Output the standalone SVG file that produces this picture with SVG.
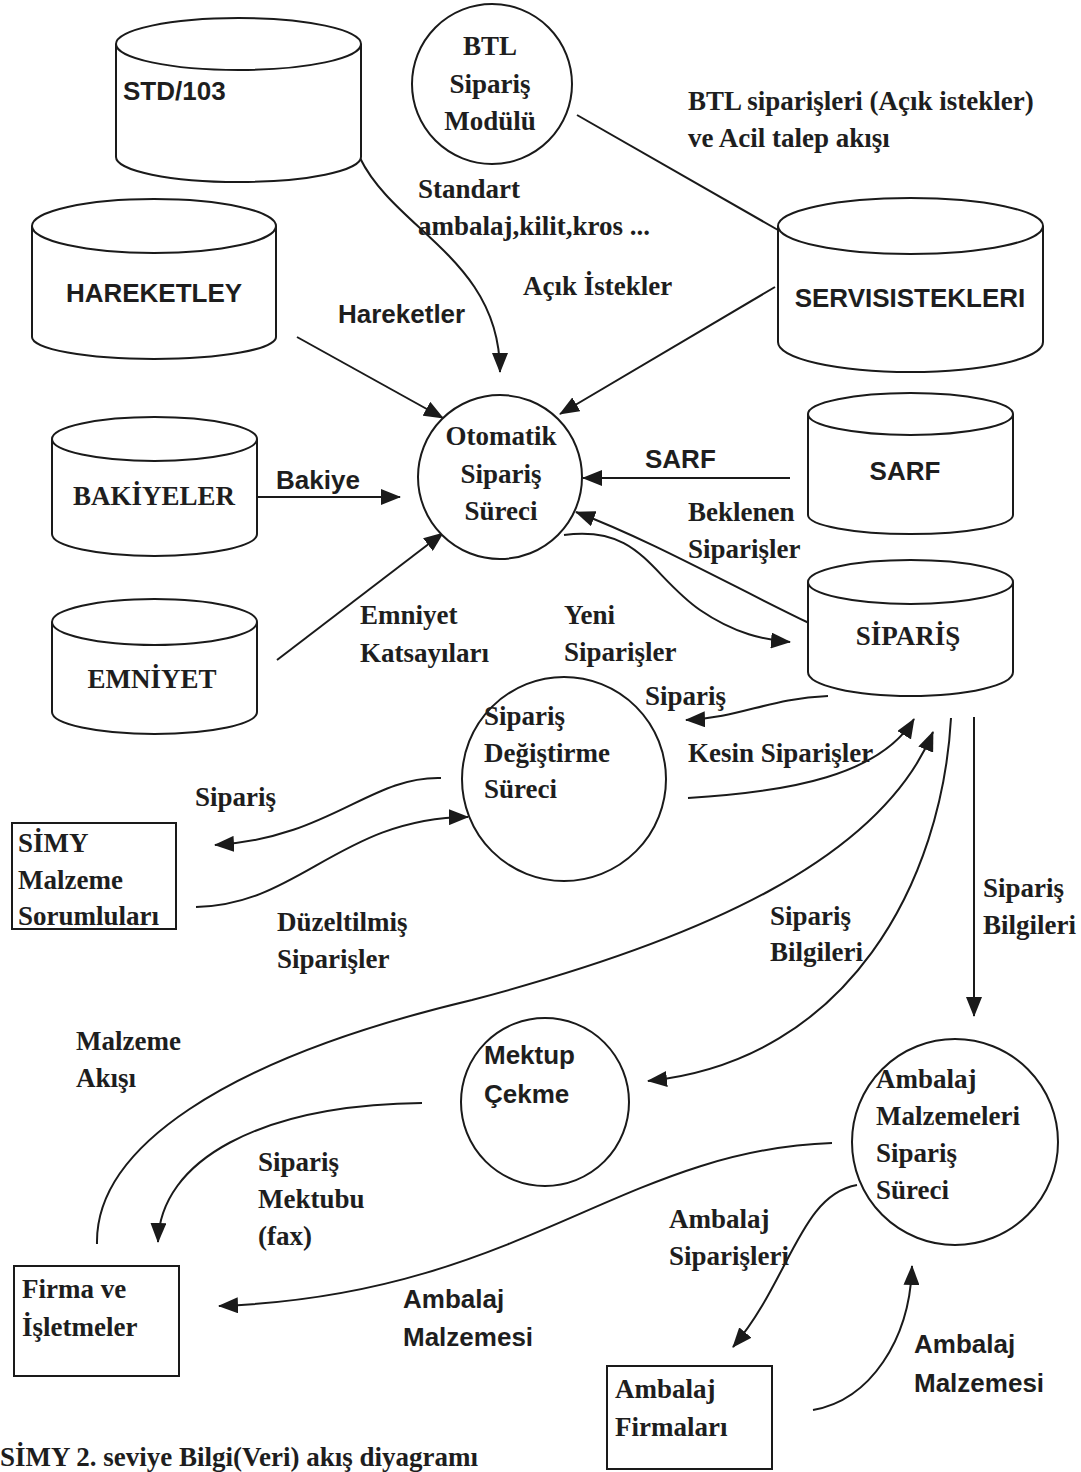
<svg xmlns="http://www.w3.org/2000/svg" width="1081" height="1472" viewBox="0 0 1081 1472">
<defs>
<style>
.sh{fill:#fff;stroke:#1a1a1a;stroke-width:2}
.ln{fill:none;stroke:#1a1a1a;stroke-width:2}
.ar{marker-end:url(#ah)}
.t{font-family:"Liberation Serif","Times New Roman",serif;font-weight:bold;font-size:27px;fill:#1e1e1e}
.a{font-family:"Liberation Sans",Arial,sans-serif;font-weight:bold;font-size:26px;fill:#1e1e1e}
.m{text-anchor:middle}
</style>
<marker id="ah" viewBox="0 0 20 16" refX="19" refY="8" markerWidth="20" markerHeight="16" markerUnits="userSpaceOnUse" orient="auto">
<path d="M0,0 L20,8 L0,16 z" fill="#1a1a1a"/>
</marker>
</defs>
<rect width="1081" height="1472" fill="#fff"/>

<g id="connectors">
<path class="ln ar" d="M360,158 C395,230 500,260 500,372"/>
<path class="ln ar" d="M297,337 L443,418"/>
<path class="ln ar" d="M775,287 L560,414"/>
<path class="ln" d="M577,115 L778,230"/>
<path class="ln ar" d="M257,497 L400,497"/>
<path class="ln ar" d="M277,660 L443,533"/>
<path class="ln ar" d="M790,478 L583,478"/>
<path class="ln ar" d="M809,623 C730,585 650,540 576,512"/>
<path class="ln ar" d="M564,535 C640,525 650,575 700,610 C735,634 765,640 790,642"/>
<path class="ln ar" d="M828,696 C770,698 740,718 686,720"/>
<path class="ln ar" d="M688,798 C790,792 880,775 914,719"/>
<path class="ln ar" d="M951,718 C942,880 850,1060 648,1081"/>
<path class="ln ar" d="M974,717 L974,1016"/>
<path class="ln ar" d="M97,1244 C95,1150 220,1060 472,1000 C700,940 880,860 933,732"/>
<path class="ln ar" d="M441,778 C370,776 330,838 215,845"/>
<path class="ln ar" d="M196,907 C300,905 340,818 468,817"/>
<path class="ln ar" d="M422,1103 C260,1105 160,1160 158,1242"/>
<path class="ln ar" d="M832,1143 C620,1150 520,1295 219,1306"/>
<path class="ln ar" d="M857,1185 C800,1195 790,1280 733,1347"/>
<path class="ln ar" d="M813,1410 C870,1400 910,1340 912,1266"/>
</g>

<g id="std103">
<path class="sh" d="M116,44 L116,157 A122.5,25 0 0 0 361,157 L361,44"/>
<ellipse class="sh" cx="238.5" cy="44" rx="122.5" ry="26"/>
<text class="a" x="123" y="100">STD/103</text>
</g>
<g id="btl">
<circle class="sh" cx="492" cy="84" r="80"/>
<text class="t m" x="490" y="55">BTL</text>
<text class="t m" x="490" y="93">Sipariş</text>
<text class="t m" x="490" y="130">Modülü</text>
</g>
<g id="hareketley">
<path class="sh" d="M32,226 L32,337 A122,22 0 0 0 276,337 L276,226"/>
<ellipse class="sh" cx="154" cy="226" rx="122" ry="27"/>
<text class="a m" x="154" y="302">HAREKETLEY</text>
</g>
<g id="servisistekleri">
<path class="sh" d="M778,226 L778,342 A132.5,30 0 0 0 1043,342 L1043,226"/>
<ellipse class="sh" cx="910.5" cy="226" rx="132.5" ry="28"/>
<text class="a m" x="910" y="307">SERVISISTEKLERI</text>
</g>
<g id="bakiyeler">
<path class="sh" d="M52,439 L52,534 A102.5,22 0 0 0 257,534 L257,439"/>
<ellipse class="sh" cx="154.5" cy="439" rx="102.5" ry="22"/>
<text class="t m" x="154" y="505">BAKİYELER</text>
</g>
<g id="emniyet">
<path class="sh" d="M52,622 L52,712 A102.5,22 0 0 0 257,712 L257,622"/>
<ellipse class="sh" cx="154.5" cy="622" rx="102.5" ry="23"/>
<text class="t m" x="152" y="688">EMNİYET</text>
</g>
<g id="sarf">
<path class="sh" d="M808,414 L808,515 A102.5,19 0 0 0 1013,515 L1013,414"/>
<ellipse class="sh" cx="910.5" cy="414" rx="102.5" ry="21"/>
<text class="a m" x="905" y="480">SARF</text>
</g>
<g id="siparis-db">
<path class="sh" d="M808,582 L808,672 A102.5,24 0 0 0 1013,672 L1013,582"/>
<ellipse class="sh" cx="910.5" cy="582" rx="102.5" ry="22"/>
<text class="t m" x="908" y="645">SİPARİŞ</text>
</g>
<g id="otomatik">
<circle class="sh" cx="500" cy="477" r="82"/>
<text class="t m" x="501" y="445">Otomatik</text>
<text class="t m" x="501" y="483">Sipariş</text>
<text class="t m" x="501" y="520">Süreci</text>
</g>
<g id="degistirme">
<circle class="sh" cx="564" cy="779" r="102"/>
<text class="t" x="484" y="725">Sipariş</text>
<text class="t" x="484" y="762">Değiştirme</text>
<text class="t" x="484" y="798">Süreci</text>
</g>
<g id="simy">
<rect class="sh" x="12" y="823" width="164" height="106"/>
<text class="t" x="18" y="852">SİMY</text>
<text class="t" x="18" y="889">Malzeme</text>
<text class="t" x="18" y="925">Sorumluları</text>
</g>
<g id="mektup">
<circle class="sh" cx="545" cy="1102" r="84"/>
<text class="a" x="484" y="1064">Mektup</text>
<text class="a" x="484" y="1103">Çekme</text>
</g>
<g id="ambalaj-surec">
<circle class="sh" cx="955" cy="1142" r="103"/>
<text class="t" x="876" y="1088">Ambalaj</text>
<text class="t" x="876" y="1125">Malzemeleri</text>
<text class="t" x="876" y="1162">Sipariş</text>
<text class="t" x="876" y="1199">Süreci</text>
</g>
<g id="firma">
<rect class="sh" x="14" y="1266" width="165" height="110"/>
<text class="t" x="22" y="1298">Firma ve</text>
<text class="t" x="22" y="1336">İşletmeler</text>
</g>
<g id="ambalaj-firmalari">
<rect class="sh" x="607" y="1366" width="165" height="103"/>
<text class="t" x="615" y="1398">Ambalaj</text>
<text class="t" x="615" y="1436">Firmaları</text>
</g>

<g id="labels">
<text class="t" x="418" y="198">Standart</text>
<text class="t" x="418" y="235">ambalaj,kilit,kros ...</text>
<text class="t" x="688" y="110">BTL siparişleri (Açık istekler)</text>
<text class="t" x="688" y="147">ve Acil talep akışı</text>
<text class="t" x="523" y="295">Açık İstekler</text>
<text class="a" x="338" y="323">Hareketler</text>
<text class="a" x="276" y="489">Bakiye</text>
<text class="a" x="645" y="468">SARF</text>
<text class="t" x="688" y="521">Beklenen</text>
<text class="t" x="688" y="558">Siparişler</text>
<text class="t" x="360" y="624">Emniyet</text>
<text class="t" x="360" y="662">Katsayıları</text>
<text class="t" x="564" y="624">Yeni</text>
<text class="t" x="564" y="661">Siparişler</text>
<text class="t" x="645" y="705">Sipariş</text>
<text class="t" x="688" y="762">Kesin Siparişler</text>
<text class="t" x="195" y="806">Sipariş</text>
<text class="t" x="277" y="931">Düzeltilmiş</text>
<text class="t" x="277" y="968">Siparişler</text>
<text class="t" x="770" y="925">Sipariş</text>
<text class="t" x="770" y="961">Bilgileri</text>
<text class="t" x="983" y="897">Sipariş</text>
<text class="t" x="983" y="934">Bilgileri</text>
<text class="t" x="76" y="1050">Malzeme</text>
<text class="t" x="76" y="1087">Akışı</text>
<text class="t" x="258" y="1171">Sipariş</text>
<text class="t" x="258" y="1208">Mektubu</text>
<text class="t" x="258" y="1245">(fax)</text>
<text class="a" x="403" y="1308">Ambalaj</text>
<text class="a" x="403" y="1346">Malzemesi</text>
<text class="t" x="669" y="1228">Ambalaj</text>
<text class="t" x="669" y="1265">Siparişleri</text>
<text class="a" x="914" y="1353">Ambalaj</text>
<text class="a" x="914" y="1392">Malzemesi</text>
<text class="t" x="0" y="1466">SİMY 2. seviye Bilgi(Veri) akış diyagramı</text>
</g>
</svg>
